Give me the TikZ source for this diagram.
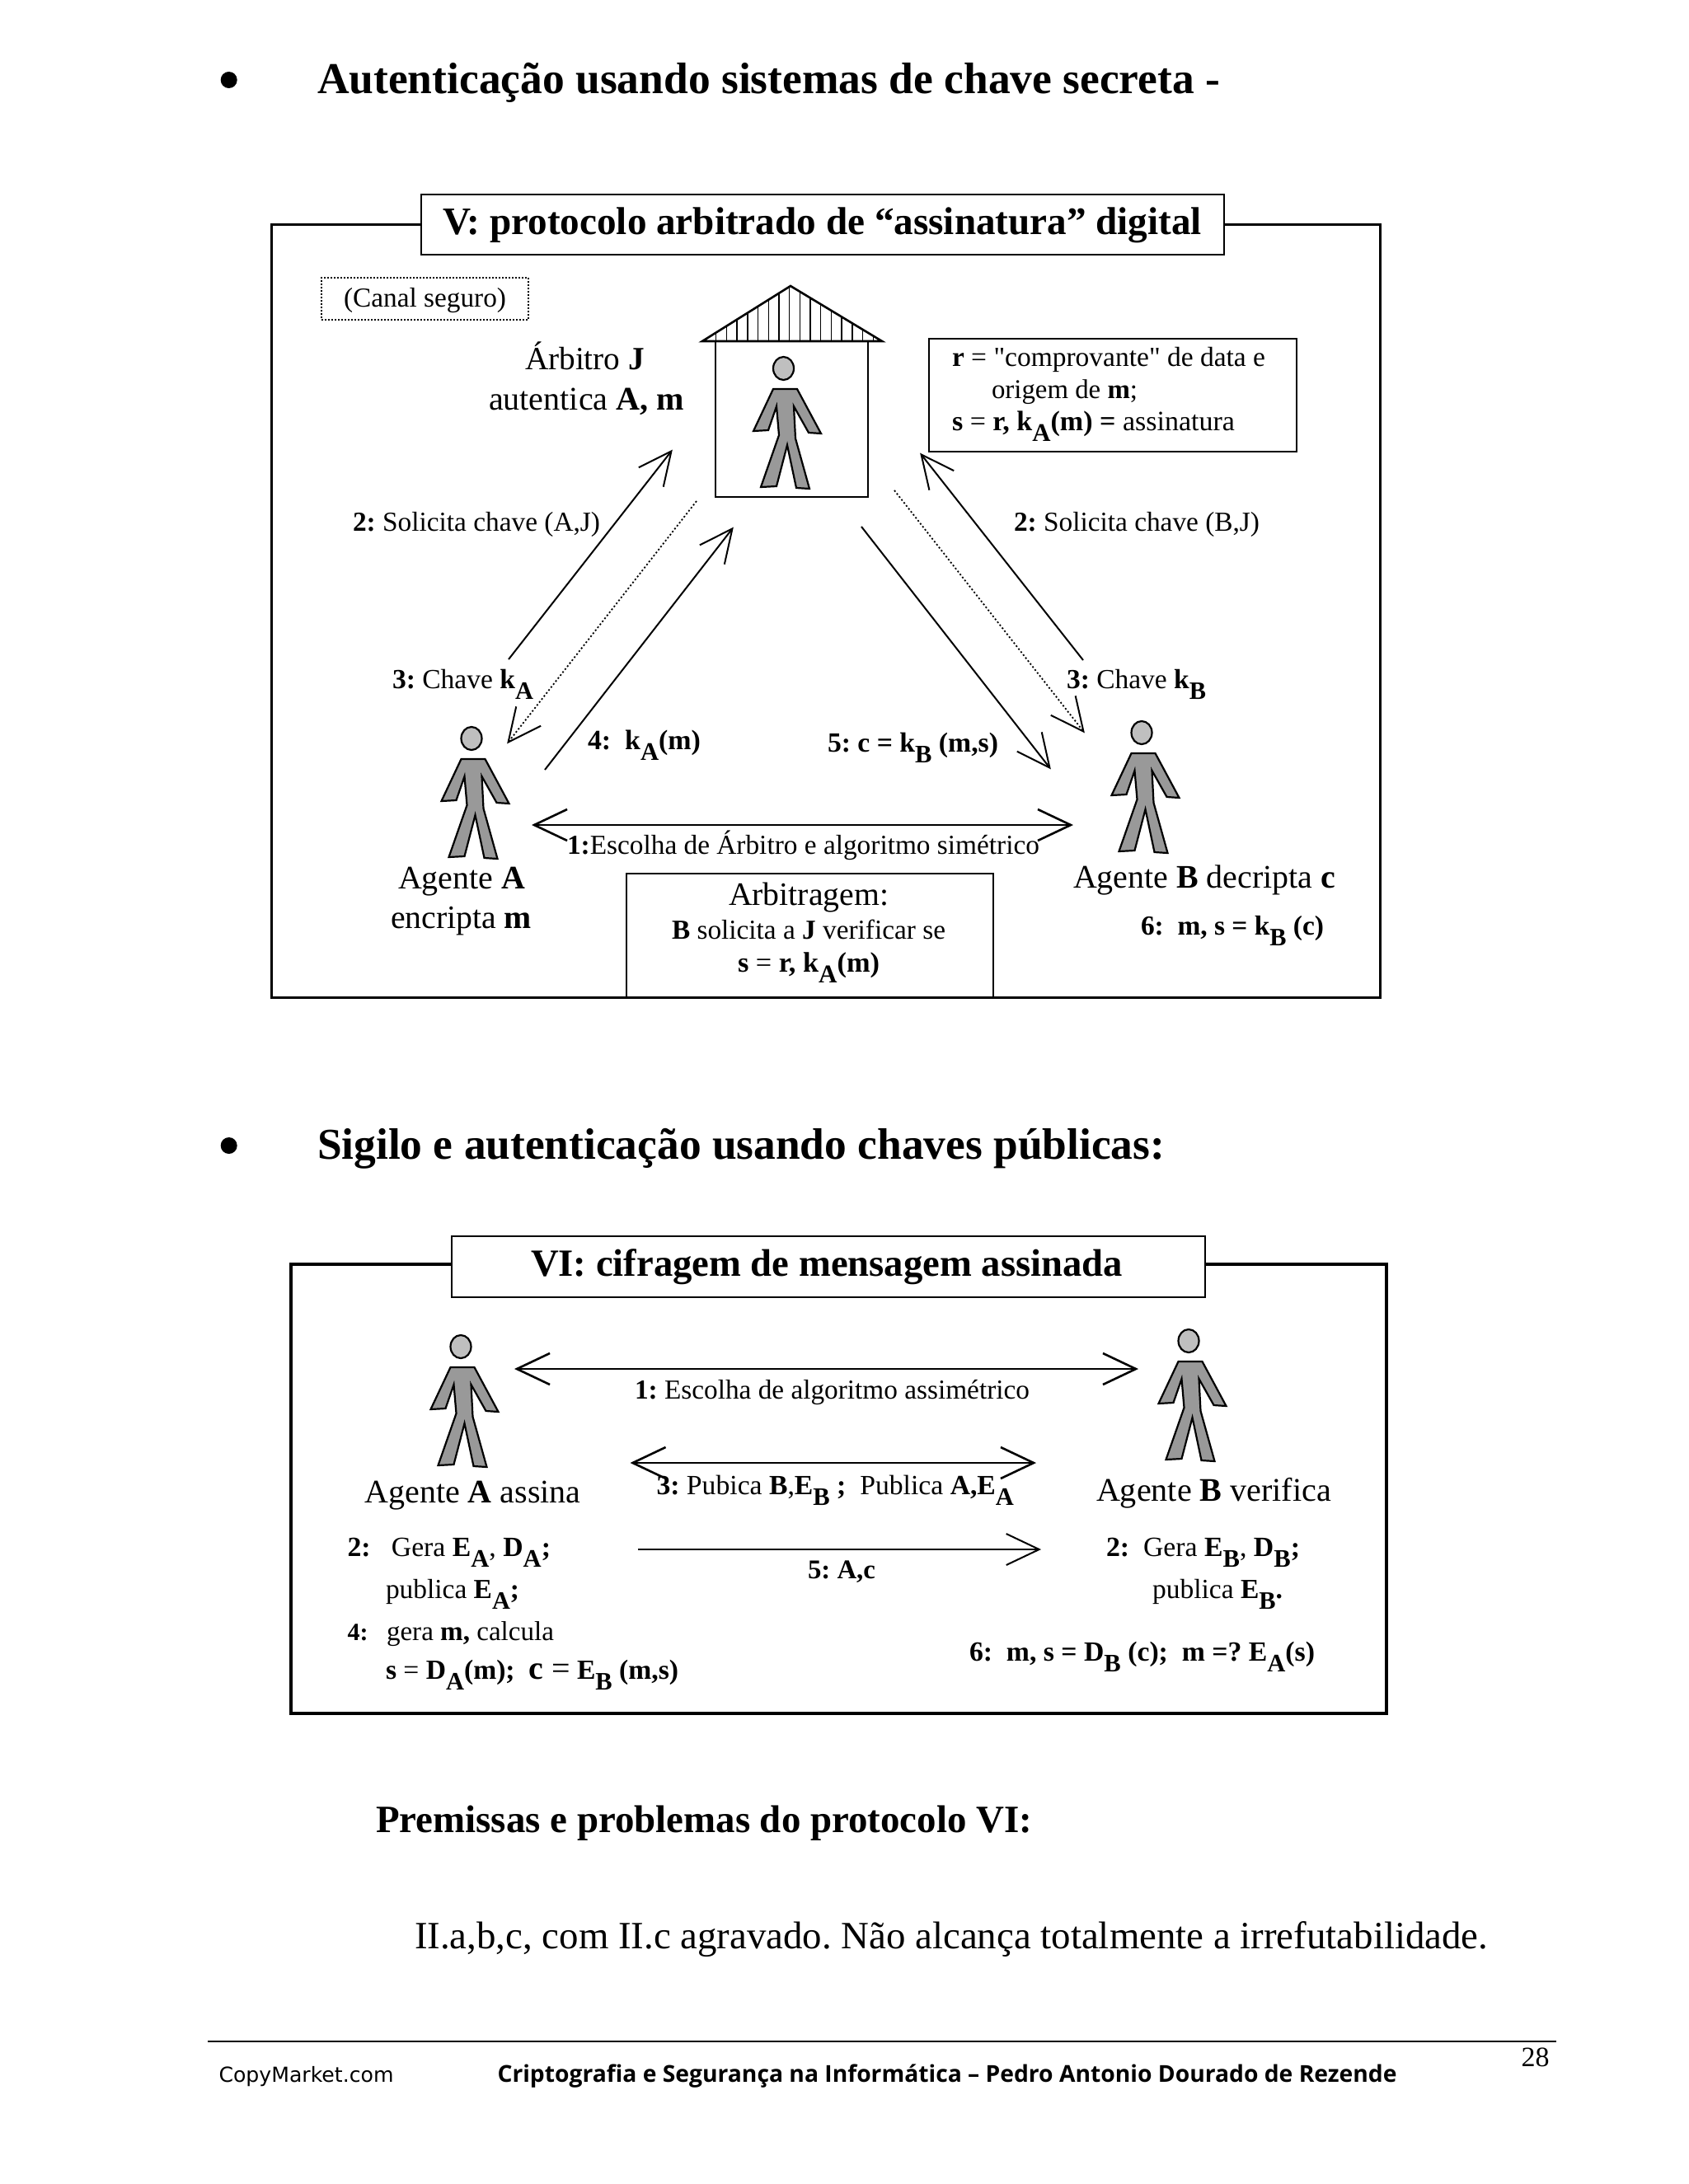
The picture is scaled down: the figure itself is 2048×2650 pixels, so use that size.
\documentclass[tikz,border=0pt]{standalone}
\usepackage{graphicx}
\usepackage{fontspec}
\setmainfont{Liberation Serif}
\newfontfamily\plainq{Liberation Serif}
\newfontfamily\footreg{DejaVu Sans}
\newfontfamily\footbold{Open Sans}
\usetikzlibrary{arrows.meta}
\newcommand\lab[5]{\node[txt] (#1) at (#2,#3) {\resizebox{#4pt}{!}{\frenchspacing #5}};}
\newcommand\sbb[1]{\raisebox{-13pt}{\fontsize{29}{30}\selectfont\textbf{#1}}}
\tikzset{
  txt/.style={anchor=base west,inner sep=0pt,outer sep=0pt,font=\fontsize{32}{36}\selectfont},
  frameline/.style={draw=black,line width=3pt,fill=white},
  titlebox/.style={draw=black,line width=2.4pt,fill=white},
  thinbox/.style={draw=black,line width=2pt,fill=white},
  bulletdot/.style={circle,fill=black,inner sep=0pt,minimum size=20pt},
  conn/.style={line width=2pt,shorten >=-3pt,-{Straight Barb[length=40pt,width=38pt]}},
  conndbl/.style={line width=2.6pt,shorten >=-3pt,shorten <=-3pt,{Straight Barb[length=40pt,width=38pt]}-{Straight Barb[length=40pt,width=38pt]}},
  dotconn/.style={line width=1.8pt,shorten >=-3pt,dash pattern=on 2pt off 2.6pt,-{Straight Barb[length=40pt,width=38pt,line width=2pt]}},
  person/.pic={
    \path[draw=black,line width=2.2pt,fill=black!40,line join=miter]
      (-12.5,25) -- (16.5,25) -- (45.5,79) -- (30.5,78) -- (12.5,46) -- (14.5,85)
      -- (31.5,146) -- (15.5,145) -- (4.5,93) -- (-8.5,143) -- (-27.5,144) -- (-5.5,81)
      -- (-8.5,46) -- (-18.5,75) -- (-36.5,76) -- cycle;
    \path[draw=black,line width=2.2pt,fill=black!25] (0,0) ellipse [x radius=12.5,y radius=14];
  }
}
\begin{document}
\begin{tikzpicture}[x=1pt,y=-1pt]
\fill[white] (0,0) rectangle (2048,2650);
\useasboundingbox (0,0) rectangle (2048,2650);

% headings
\node[bulletdot] (b1) at (277.7,97) {};
\node[bulletdot] (b2) at (277.7,1390) {};
\lab{h1}{385}{113}{1095}{\textbf{Autenticação usando sistemas de chave secreta -}}
\lab{h2}{385}{1406}{1028}{\textbf{Sigilo e autenticação usando chaves públicas:}}

% ---------- Frame V
\draw[frameline] (329,272) rectangle (1674,1210);
\node[titlebox,minimum width=974pt,minimum height=73pt,inner sep=0pt,anchor=north west] (tv) at (510,235) {};
\lab{tvt}{537}{284}{921}{\textbf{V: protocolo arbitrado de “assinatura” digital}}
\node[draw=black,line width=2pt,dash pattern=on 2pt off 2pt,minimum width=251pt,minimum height=51pt,inner sep=0pt,anchor=north west] (canal) at (389,336) {};
\lab{canalt}{417}{372}{197}{(Canal seguro)}

% house
\draw[line width=2.5pt,fill=white] (868,414) rectangle (1053,603);
\begin{scope}
\clip (852,414) -- (959,347) -- (1070,414) -- cycle;
\foreach \hx in {856,868.7,...,1070}{\draw[line width=1.4pt] (\hx,340) -- (\hx,416);}
\end{scope}
\draw[line width=2.6pt,line join=miter] (852,414) -- (959,347) -- (1070,414) -- cycle;
\pic (pj) at (950.5,447) {person};

\lab{arb1}{637}{448}{145}{Árbitro \textbf{J}}
\lab{arb2}{593}{497}{237}{autentica \textbf{A, m}}

% r box
\node[thinbox,minimum width=446pt,minimum height=137pt,inner sep=0pt,anchor=north west] (rbox) at (1126,410) {};
\lab{r1}{1155}{444}{380}{\textbf{r} = {\plainq"}comprovante{\plainq"} de data e}
\lab{r2}{1203}{483}{177}{origem de \textbf{m};}
\lab{r3}{1155}{522}{343}{\textbf{s} = \textbf{r, k}\sbb{A}\textbf{(m) =} assinatura}

% arrows V
\coordinate (a2s) at (617,800);  \coordinate (a2t) at (814,548);
\coordinate (d2s) at (845,608);  \coordinate (d2t) at (617,900);
\coordinate (a4s) at (661,934);  \coordinate (a4t) at (888,642);
\coordinate (a5s) at (1045,639); \coordinate (a5t) at (1273,931);
\coordinate (b2s) at (1314,801); \coordinate (b2t) at (1118,552);
\coordinate (e2s) at (1085,595); \coordinate (e2t) at (1314,887);
\coordinate (dl)  at (648,1001); \coordinate (dr)  at (1299,1001);
\draw[conn] (a2s) -- (a2t);
\draw[dotconn] (d2s) -- (d2t);
\draw[conn] (a4s) -- (a4t);
\draw[conn] (a5s) -- (a5t);
\draw[conn] (b2s) -- (b2t);
\draw[dotconn] (e2s) -- (e2t);
\draw[conndbl] (dl) -- (dr);

\lab{l2a}{428}{644}{300}{\textbf{2:} Solicita chave (A,J)}
\lab{l2b}{1230}{644}{298}{\textbf{2:} Solicita chave (B,J)}
\lab{l3a}{476}{835}{171}{\textbf{3:} Chave \textbf{k}\sbb{A}}
\lab{l3b}{1294}{835}{169}{\textbf{3:} Chave \textbf{k}\sbb{B}}
\lab{l4}{713}{909}{137}{\textbf{4:\ \ k}\sbb{A}\textbf{(m)}}
\lab{l5}{1004}{912}{207}{\textbf{5: c = k}\sbb{B}\textbf{ (m,s)}}
\lab{l1}{688}{1036}{573}{\textbf{1:}Escolha de Árbitro e algoritmo simétrico}

\pic (pa) at (572,896) {person};
\pic (pb) at (1385,889) {person};
\lab{aga}{483}{1078}{154}{Agente \textbf{A}}
\lab{agb}{474}{1126}{171}{encripta \textbf{m}}
\lab{agc}{1302}{1077}{318}{Agente \textbf{B} decripta \textbf{c}}
\lab{l6}{1384}{1134}{222}{\textbf{6:\ \ m, s = k}\sbb{B}\textbf{ (c)}}

\node[thinbox,minimum width=445pt,minimum height=151pt,inner sep=0pt,anchor=north west] (arbox) at (759,1059) {};
\lab{ar1}{884}{1098}{194}{Arbitragem:}
\lab{ar2}{815}{1139}{332}{\textbf{B} solicita a \textbf{J} verificar se}
\lab{ar3}{895}{1179}{172}{\textbf{s} = \textbf{r, k}\sbb{A}\textbf{(m)}}
\draw[line width=3pt] (329,1210) -- (1674,1210);

% ---------- Frame VI
\draw[frameline,line width=3.4pt] (353,1534) rectangle (1682,2079);
\node[titlebox,minimum width=914pt,minimum height=74pt,inner sep=0pt,anchor=north west] (tvi) at (547,1499) {};
\lab{tvit}{644}{1548}{718}{\textbf{VI: cifragem de mensagem assinada}}

\coordinate (c1l) at (627,1661);  \coordinate (c1r) at (1378,1661);
\coordinate (c3l) at (767.5,1775); \coordinate (c3r) at (1254,1775);
\coordinate (c5l) at (774,1880);  \coordinate (c5r) at (1260,1880);
\draw[conndbl] (c1l) -- (c1r);
\draw[conndbl] (c3l) -- (c3r);
\draw[conn] (c5l) -- (c5r);

\pic (pa2) at (559,1634) {person};
\pic (pb2) at (1442,1627) {person};

\lab{m1}{770}{1697}{479}{\textbf{1:} Escolha de algoritmo assimétrico}
\lab{m3}{796.5}{1813}{433.5}{\textbf{3:} Pubica \textbf{B},\textbf{E}\sbb{B}\textbf{ ;}\ \ Publica \textbf{A,E}\sbb{A}}
\lab{m5}{980}{1915}{82}{\textbf{5: A,c}}
\lab{ga}{442.5}{1823}{262}{Agente \textbf{A} assina}
\lab{gb}{1330}{1821}{285}{Agente \textbf{B} verifica}

\lab{a21}{421.5}{1888}{246.5}{\textbf{2:}\ \ \ Gera \textbf{E}\sbb{A}, \textbf{D}\sbb{A}\textbf{;}}
\lab{a22}{468}{1939}{162}{publica \textbf{E}\sbb{A}\textbf{;}}
\lab{a41}{421.5}{1990}{25}{\textbf{4:}}
\lab{a42}{469}{1990}{203}{gera \textbf{m,} calcula}
\lab{a43}{468}{2037}{355}{\textbf{s} = \textbf{D}\sbb{A}\textbf{(m);}\ \ {\fontsize{38}{38}\selectfont\textbf{c} =} \textbf{E}\sbb{B}\textbf{ (m,s)}}
\lab{b21}{1342}{1888}{235}{\textbf{2:}\ \ Gera \textbf{E}\sbb{B}, \textbf{D}\sbb{B}\textbf{;}}
\lab{b22}{1398}{1939}{158}{publica \textbf{E}\sbb{B}\textbf{.}}
\lab{b6}{1176}{2015}{419}{\textbf{6:\ \ m, s = D}\sbb{B}\textbf{ (c);\ \ m =? E}\sbb{A}\textbf{(s)}}

% bottom text
\lab{p1}{456}{2223}{796}{\textbf{Premissas e problemas do protocolo VI:}}
\lab{p2}{503}{2364}{1302}{II.a,b,c, com II.c agravado. Não alcança totalmente a irrefutabilidade.}

% footer
\coordinate (rl) at (252,2477); \coordinate (rr) at (1888,2477);
\draw[line width=2.4pt] (rl) -- (rr);
\lab{f28}{1845.5}{2507}{34}{28}
\lab{f1}{265.5}{2526}{212}{\footreg CopyMarket.com}
\lab{f2}{603.5}{2526}{1091}{\footbold\bfseries Criptografia e Segurança na Informática – Pedro Antonio Dourado de Rezende}
\end{tikzpicture}
\end{document}
